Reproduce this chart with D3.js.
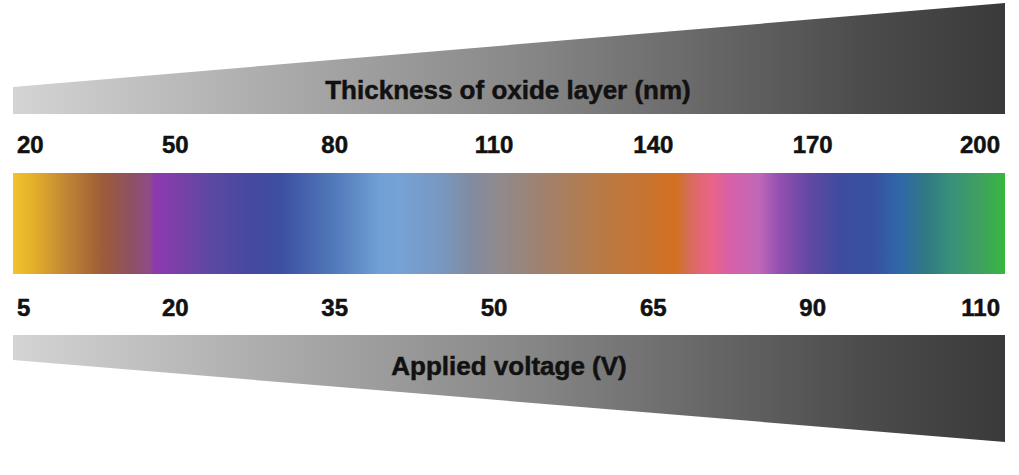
<!DOCTYPE html>
<html><head><meta charset="utf-8">
<script src="https://cdn.jsdelivr.net/npm/d3@7"></script>
<style>html,body{margin:0;padding:0;background:#fff;}svg{display:block;}</style>
</head><body><svg id="c" width="1019" height="475"></svg>
<script>
// ---- data ----
const thicknessLabels = [20, 50, 80, 110, 140, 170, 200];
const voltageLabels = [5, 20, 35, 50, 65, 90, 110];
const thicknessTitle = "Thickness of oxide layer (nm)";
const voltageTitle = "Applied voltage (V)";
// interference colour stops along the band (fraction of band, colour)
const bandOffsets = [0, 0.02, 0.05, 0.09, 0.12, 0.137, 0.143, 0.165, 0.2, 0.24, 0.27, 0.32, 0.335, 0.37, 0.39, 0.43, 0.46, 0.49, 0.53, 0.59, 0.64, 0.668, 0.675, 0.69, 0.705, 0.722, 0.752, 0.772, 0.803, 0.833, 0.865, 0.895, 0.92, 0.945, 0.975, 1];
const bandColors = ["#f2c22e", "#e4b02a", "#c48a34", "#9d5c38", "#8e5064", "#8e4c86", "#8f38b0", "#7b40a8", "#5c48a2", "#4648a0", "#3c50a0", "#4f76b8", "#5a82c0", "#70a0d6", "#76a2d4", "#7898c2", "#808ca2", "#908a8c", "#9e8270", "#b87a46", "#c87430", "#d47020", "#d07040", "#e06870", "#e86488", "#d860a8", "#c068b8", "#9450b0", "#6248a2", "#3e4ca0", "#3850a0", "#3068a8", "#307884", "#38907a", "#40a060", "#36b83e"];
// grey ramp of the two wedges
const wedgeOffsets = [0, 0.25, 0.5, 0.7, 0.85, 1];
const wedgeColors = ["#d4d4d4", "#adadad", "#8a8a8a", "#676767", "#4d4d4d", "#3a3a3a"];

// ---- layout ----
const svg = d3.select("#c");
const X0 = 13, X1 = 1005;
const x = d3.scaleLinear().domain([0, 1]).range([X0, X1]);
const tickPos = d3.scalePoint().domain(d3.range(thicknessLabels.length)).range([16, 972]);

const defs = svg.append("defs");
function grad(id, offs, cols) {
  const g = defs.append("linearGradient").attr("id", id)
    .attr("gradientUnits", "userSpaceOnUse")
    .attr("x1", X0).attr("x2", X1).attr("y1", 0).attr("y2", 0);
  g.selectAll("stop").data(offs).join("stop")
    .attr("offset", d => d).attr("stop-color", (d, i) => cols[i]);
}
grad("band", bandOffsets, bandColors);
grad("wedge", wedgeOffsets, wedgeColors);

const line = d3.line();
// top wedge
svg.append("path")
  .attr("d", line([[x(0), 87], [x(1), 3], [x(1), 114], [x(0), 114]]) + "Z")
  .attr("fill", "url(#wedge)");
// bottom wedge
svg.append("path")
  .attr("d", line([[x(0), 335], [x(1), 335], [x(1), 442], [x(0), 360]]) + "Z")
  .attr("fill", "url(#wedge)");

// colour band
svg.append("rect").attr("x", x(0)).attr("y", 173).attr("width", x(1) - x(0)).attr("height", 101)
  .attr("fill", "url(#band)");

const font = "'Liberation Sans', Arial, Helvetica, sans-serif";
function labels(arr, y) {
  svg.append("g").selectAll("text").data(arr).join("text")
    .attr("x", (d, i) => i === 0 ? X0 + 4 : i === arr.length - 1 ? X1 - 5 : tickPos(i))
    .attr("y", y)
    .attr("text-anchor", (d, i) => i === 0 ? "start" : i === arr.length - 1 ? "end" : "middle")
    .attr("font-family", font).attr("font-weight", "bold").attr("font-size", 24)
    .attr("fill", "#111").attr("stroke", "#111").attr("stroke-width", 0.5).text(d => d);
}
labels(thicknessLabels, 153);
labels(voltageLabels, 316);

svg.append("text").attr("x", 508).attr("y", 99).attr("text-anchor", "middle")
  .attr("font-family", font).attr("font-weight", "bold").attr("font-size", 26)
  .attr("fill", "#111").attr("stroke", "#111").attr("stroke-width", 0.5).text(thicknessTitle);
svg.append("text").attr("x", 509).attr("y", 375).attr("text-anchor", "middle")
  .attr("font-family", font).attr("font-weight", "bold").attr("font-size", 26)
  .attr("fill", "#111").attr("stroke", "#111").attr("stroke-width", 0.5).text(voltageTitle);
</script>
</body></html>
